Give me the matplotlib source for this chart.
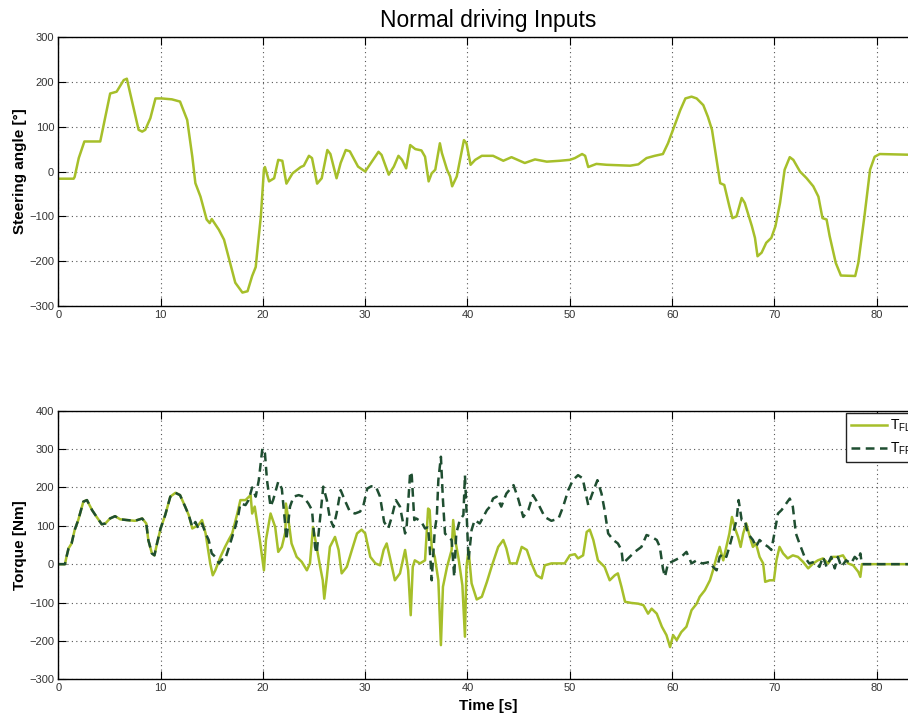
import matplotlib
matplotlib.use("Agg")
import matplotlib.pyplot as plt

plt.rcParams['font.family'] = ['Liberation Sans', 'DejaVu Sans']

# steering angle [deg] vs time [s]
steer_t = [0, 1.5, 1.6, 2.0, 2.55, 4.1, 5.07, 5.7, 6.4, 6.7, 7.85, 8.2, 8.5, 9.0, 9.5,
           10.1, 11.1, 11.9, 12.6, 13.1, 13.4, 13.9, 14.5, 14.8, 15.0, 15.7, 16.2, 16.8,
           17.3, 18.0, 18.5, 18.95, 19.3, 19.4, 19.8, 20.1, 20.2, 20.6, 21.1, 21.5, 21.9,
           22.3, 22.9, 23.7, 24.0, 24.5, 24.8, 25.3, 25.75, 26.3, 26.6, 27.2, 27.6, 28.1,
           28.5, 29.3, 30.0, 30.65, 31.3, 31.6, 32.3, 32.8, 33.25, 33.6, 34.0, 34.4, 34.9,
           35.5, 35.85, 36.2, 36.5, 36.85, 37.3, 37.5, 38.0, 38.3, 38.5, 38.95, 39.65, 39.9,
           40.3, 40.75, 41.4, 42.5, 43.5, 44.3, 45.6, 46.6, 47.75, 49.05, 50.0, 50.5, 51.2,
           51.5, 51.8, 52.6, 53.6, 55.9, 56.7, 57.5, 58.3, 59.1, 59.6, 60.2, 60.8, 61.3,
           61.9, 62.4, 63.05, 63.5, 63.9, 64.4, 64.7, 65.1, 65.6, 65.9, 66.3, 66.8, 67.1,
           67.8, 68.1, 68.35, 68.75, 69.2, 69.7, 70.1, 70.55, 71.0, 71.5, 71.85, 72.5, 73.15,
           73.8, 74.3, 74.7, 75.1, 75.4, 76.0, 76.5, 77.9, 78.2, 78.8, 79.35, 79.8, 80.3,
           84.0]
steer_deg = [-16, -16, -12, 30, 67, 67, 174, 178, 204, 207, 93, 89, 93, 119, 163,
             163, 161, 156, 115, 33, -26, -56, -107, -115, -106, -130, -152, -204,
             -248, -270, -267, -233, -213, -189, -100, 4, 10, -22, -15, 26, 24,
             -27, -4, 10, 13, 35, 30, -27, -15, 48, 39, -15, 19, 48,
             45, 11, 0, 22, 44, 37, -7, 11, 35, 26, 7, 59, 50,
             47, 33, -22, -4, 4, 63, 41, 4, -11, -33, -11, 70, 63,
             15, 26, 35, 35, 24, 32, 19, 27, 22, 24, 26, 30, 39,
             35, 10, 17, 15, 13, 16, 30, 35, 39, 63, 100, 137, 163,
             167, 163, 148, 122, 93, 19, -26, -30, -78, -104, -100, -59, -70,
             -122, -148, -189, -181, -159, -148, -122, -70, 4, 32, 26, 0, -15,
             -33, -56, -104, -107, -144, -204, -232, -233, -204, -100, 4, 33, 39,
             37]

# front-left wheel torque [Nm]
tfl_t = [0, 0.65, 0.8, 1.0, 1.3, 1.6, 1.95, 2.45, 2.8, 3.3, 3.75, 4.25, 4.6, 5.05, 5.55,
         6.05, 6.7, 7.5, 8.2, 8.6, 8.8, 9.15, 9.4, 9.65, 10.0, 10.45, 10.95, 11.45, 11.9,
         12.4, 12.75, 13.1, 13.7, 14.05, 14.4, 14.85, 15.1, 15.35, 15.85, 16.3, 16.65,
         17.0, 17.5, 17.8, 18.3, 18.8, 18.95, 19.2, 19.45, 19.7, 20.1, 20.3, 20.75, 21.2,
         21.5, 21.85, 22.2, 22.25, 22.5, 22.8, 23.3, 23.8, 24.3, 24.6, 24.9, 25.25, 25.6,
         25.85, 26.0, 26.25, 26.55, 27.05, 27.4, 27.7, 28.2, 28.7, 29.2, 29.65, 30.0,
         30.5, 31.0, 31.45, 31.8, 32.1, 32.4, 32.9, 33.4, 33.9, 34.2, 34.45, 34.65, 34.85,
         35.35, 35.85, 36.15, 36.3, 36.5, 36.8, 37.15, 37.4, 37.6, 38.0, 38.45, 38.6,
         38.8, 39.1, 39.5, 39.75, 39.9, 40.1, 40.4, 40.9, 41.4, 41.9, 42.35, 43.0, 43.5,
         43.8, 44.15, 44.8, 45.3, 45.8, 46.25, 46.75, 47.25, 47.55, 48.2, 49.5, 50.0,
         50.5, 50.8, 51.3, 51.65, 51.95, 52.3, 52.75, 53.4, 53.9, 54.4, 54.7, 55.05,
         55.4, 56.0, 56.7, 57.2, 57.65, 58.0, 58.5, 59.0, 59.45, 59.8, 60.1, 60.45, 60.9,
         61.4, 61.9, 62.4, 62.7, 63.2, 63.7, 64.0, 64.35, 64.65, 65.0, 65.3, 65.6, 65.85,
         66.1, 66.45, 66.7, 66.95, 67.25, 67.6, 67.9, 68.2, 68.55, 68.9, 69.1, 69.55,
         69.95, 70.2, 70.5, 70.85, 71.3, 71.8, 72.3, 72.8, 73.3, 73.8, 74.25, 74.75,
         75.25, 75.7, 76.2, 76.7, 77.2, 77.7, 78.2, 78.4, 78.55, 84.0]
tfl_nm = [0, 0, 19, 41, 54, 89, 115, 163, 167, 141, 123, 104, 106, 119, 125,
          117, 115, 113, 119, 106, 63, 28, 23, 54, 93, 128, 176, 186, 180,
          150, 128, 93, 102, 115, 80, 2, -29, -16, 19, 45, 63,
          80, 132, 167, 167, 180, 132, 150, 106, 63, -16, 63, 132, 97,
          32, 45, 84, 158, 115, 54, 19, 6, -16, 2, 97, 45, -7,
          -42, -90, -33, 45, 71, 37, -24, -7, 37, 80, 90, 80,
          19, 2, -3, 37, 54, 19, -42, -24, 37, -16, -133, -7, 10,
          2, 10, 145, 141, 45, 19, -42, -211, -59, -7, 37, 115,
          63, 19, -55, -189, -7, 37, -50, -92, -85, -46, -7, 45, 63,
          41, 2, 2, 45, 37, 2, -29, -37, -3, 2, 2, 23,
          26, 15, 23, 84, 90, 63, 10, -7, -42, -29, -24, -59,
          -98, -101, -103, -107, -129, -116, -129, -163, -185, -216, -185, -198, -177,
          -163, -120, -103, -85, -68, -42, -16, 19, 45, 10, 45, 80, 123,
          97, 71, 45, 80, 106, 71, 45, 54, 19, 2, -46, -42,
          -42, 10, 45, 28, 15, 23, 19, 6, -11, 2, 10, 15,
          2, 19, 19, 23, 2, -3, -20, -33, 0, 0]

# front-right wheel torque [Nm]
tfr_t = [0, 0.65, 0.8, 1.0, 1.3, 1.6, 1.95, 2.45, 2.8, 3.3, 3.75, 4.25, 4.6, 5.05, 5.55,
         6.05, 6.7, 7.5, 8.2, 8.6, 8.8, 9.15, 9.4, 9.65, 10.0, 10.45, 10.95, 11.45, 11.9,
         12.4, 12.75, 13.1, 13.4, 13.7, 14.05, 14.4, 14.7, 15.0, 15.35, 15.7, 16.0, 16.3,
         16.65, 17.0, 17.3, 17.6, 17.8, 18.3, 18.6, 18.95, 19.3, 19.6, 19.95, 20.2, 20.4,
         20.75, 21.0, 21.5, 21.85, 22.2, 22.3, 22.65, 23.0, 23.5, 23.95, 24.45, 24.8,
         25.1, 25.25, 25.6, 25.9, 26.25, 26.55, 26.9, 27.2, 27.6, 28.0, 28.5, 29.0, 29.5,
         29.8, 30.2, 30.6, 31.05, 31.45, 31.85, 32.25, 32.6, 33.0, 33.4, 33.9, 34.05,
         34.4, 34.55, 34.8, 35.0, 35.5, 35.85, 36.15, 36.3, 36.5, 36.8, 37.0, 37.15,
         37.4, 37.6, 37.8, 38.1, 38.45, 38.7, 38.9, 39.25, 39.6, 39.75, 39.9, 40.1, 40.4,
         40.7, 41.2, 41.9, 42.2, 42.5, 42.85, 43.3, 43.8, 44.5, 44.95, 45.45, 45.95, 46.4,
         46.9, 47.55, 48.2, 48.9, 49.35, 49.85, 50.3, 50.8, 51.25, 51.5, 51.8, 52.2, 52.7,
         53.1, 53.4, 53.75, 54.25, 54.7, 55.05, 55.2, 55.7, 56.35, 57.0, 57.5, 58.0, 58.5,
         58.8, 59.1, 59.3, 59.6, 59.95, 60.4, 60.9, 61.4, 61.9, 62.4, 62.9, 63.2, 63.7,
         64.0, 64.35, 64.65, 65.0, 65.3, 65.6, 65.95, 66.3, 66.5, 66.8, 67.1, 67.4, 67.9,
         68.2, 68.55, 68.9, 69.4, 69.7, 70.0, 70.35, 70.7, 71.15, 71.5, 71.8, 72.1, 72.45,
         72.95, 73.4, 73.9, 74.4, 74.75, 75.1, 75.55, 75.9, 76.2, 76.55, 77.0, 77.5,
         77.85, 78.2, 78.4, 78.55, 84.0]
tfr_nm = [0, 0, 19, 41, 54, 89, 115, 163, 167, 141, 123, 104, 106, 119, 125,
          117, 115, 113, 119, 106, 63, 28, 23, 54, 93, 128, 176, 186, 180,
          150, 128, 97, 110, 93, 106, 80, 63, 28, 19, 2, 12, 12,
          41, 71, 97, 128, 158, 154, 167, 200, 176, 219, 302, 289, 219,
          150, 167, 215, 197, 97, 63, 150, 176, 180, 176, 158, 141,
          45, 28, 123, 202, 167, 119, 97, 132, 193, 167, 137, 132, 137,
          150, 197, 203, 202, 176, 110, 93, 123, 167, 150, 80, 97,
          241, 232, 115, 119, 110, 93, 97, 45, -42, 89, 123, 219,
          280, 167, 80, 71, 63, -33, 80, 115, 128, 232, 141, 10, 89,
          115, 106, 141, 150, 171, 176, 150, 184, 206, 171, 123, 141, 180,
          158, 123, 113, 119, 150, 193, 219, 232, 224, 193, 154, 184, 219,
          184, 141, 80, 63, 54, 37, 2, 15, 32, 45, 76, 71, 63,
          45, -11, -33, 2, 6, 12, 19, 32, 2, 10, 2, 3, 6,
          -7, -16, 19, 28, 19, 45, 80, 115, 167, 115, 115, 80, 63,
          45, 63, 54, 45, 37, 80, 132, 141, 158, 171, 150, 80, 54,
          19, 2, 6, -7, 19, -7, 19, -11, 19, -7, 10, 2,
          19, 10, 28, 0, 0]

light_green = '#a6bf2a'
dark_green = '#1f4e31'

fig = plt.figure(figsize=(9.08, 7.16), dpi=100)
ax1 = fig.add_axes([0.0642, 0.5726, 0.9464, 0.3757])
ax2 = fig.add_axes([0.0642, 0.0513, 0.9464, 0.3751])

ax1.plot(steer_t, steer_deg, color=light_green, lw=1.8)
ax2.plot(tfl_t, tfl_nm, color=light_green, lw=1.8, label=r'$\mathregular{T_{FL}}$')
ax2.plot(tfr_t, tfr_nm, color=dark_green, lw=1.8, ls=(0, (3.5, 2.2)),
         label=r'$\mathregular{T_{FR}}$')

ax1.set_ylim(-300, 300)
ax1.set_yticks(range(-300, 301, 100))
ax2.set_ylim(-300, 400)
ax2.set_yticks(range(-300, 401, 100))

for ax in (ax1, ax2):
    ax.set_xlim(0, 84)
    ax.set_xticks(range(0, 81, 10))
    ax.grid(True, ls=(0, (1, 3)), color='#555555', lw=0.8)
    ax.tick_params(direction='in', top=True, right=True, length=6, width=0.8,
                   labelsize=8, labelcolor='#333333', pad=3)
    for s in ax.spines.values():
        s.set_linewidth(1.0)

ax1.set_title('Normal driving Inputs', fontsize=16.5, pad=7.5)
ax1.set_ylabel('Steering angle [°]', fontsize=11, fontweight='bold')
ax1.yaxis.set_label_coords(-0.036, 0.5)
ax2.set_ylabel('Torque [Nm]', fontsize=11, fontweight='bold')
ax2.yaxis.set_label_coords(-0.036, 0.5)
ax2.set_xlabel('Time [s]', fontsize=11, fontweight='bold')
ax2.xaxis.set_label_coords(0.5, -0.073)

# legend sits at the right edge, partly clipped like in the original figure
leg = ax2.legend(loc='upper left', bbox_to_anchor=(0.9167, 0.9914), borderaxespad=0,
                 fontsize=10, handlelength=2.6, handletextpad=0.25, labelspacing=0.45,
                 borderpad=0.35, fancybox=False, framealpha=1, edgecolor='#222222')
leg.get_frame().set_linewidth(1.0)

fig.savefig('out.png', dpi=100)
